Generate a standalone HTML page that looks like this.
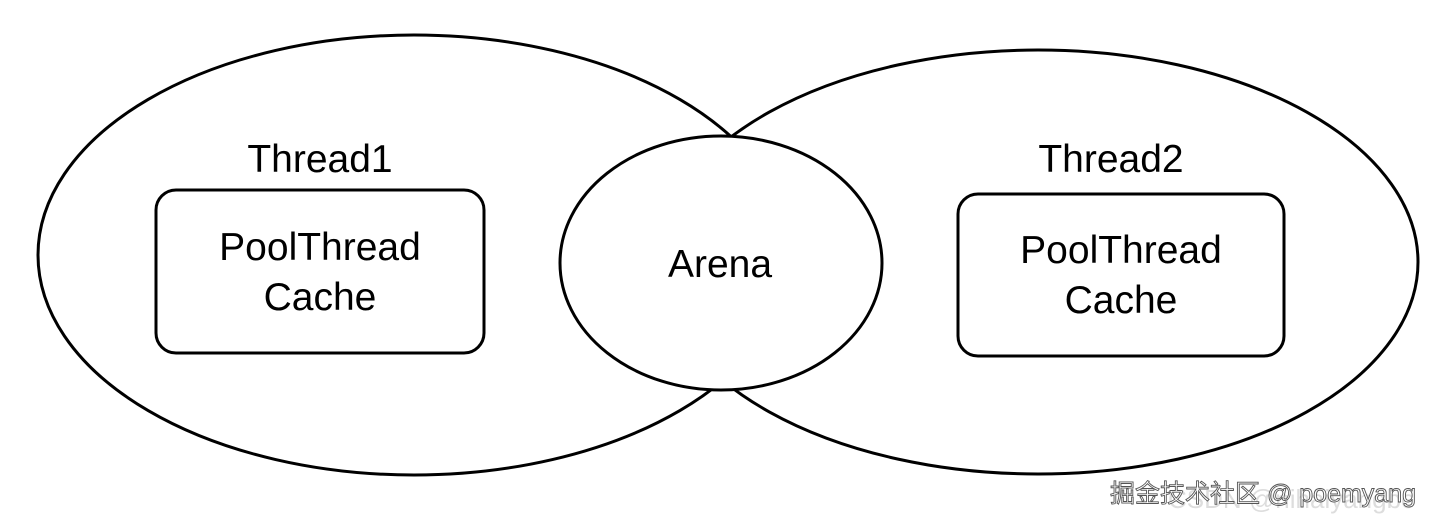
<!DOCTYPE html>
<html><head><style>body{margin:0;background:#fff}svg{display:block}</style></head><body>
<svg width="1440" height="527" xmlns="http://www.w3.org/2000/svg" font-family="Liberation Sans, Noto Sans CJK SC, sans-serif">
<rect width="1440" height="527" fill="#fff"/>
<ellipse cx="414" cy="255" rx="376" ry="220" fill="none" stroke="#000" stroke-width="3"/>
<ellipse cx="1038" cy="262" rx="380" ry="212" fill="none" stroke="#000" stroke-width="3"/>
<ellipse cx="721" cy="263" rx="161" ry="127" fill="#fff" stroke="#000" stroke-width="3"/>
<rect x="156" y="190" width="328" height="163" rx="20" fill="none" stroke="#000" stroke-width="3"/>
<rect x="958" y="194" width="326" height="162" rx="20" fill="none" stroke="#000" stroke-width="3"/>
<g font-size="39" text-anchor="middle" fill="#000">
<text x="320" y="172">Thread1</text>
<text x="320" y="260">PoolThread</text>
<text x="320" y="310">Cache</text>
<text x="720" y="277">Arena</text>
<text x="1111" y="172">Thread2</text>
<text x="1121" y="263">PoolThread</text>
<text x="1121" y="313">Cache</text>
</g>
<text x="1168" y="508" font-size="26" fill="#ddd">CSDN @nihaiyangbo</text>
<text x="1110" y="502" font-size="25" fill="#fff" stroke="#555" stroke-width="0.9">掘金技术社区 @ poemyang</text>
</svg>
</body></html>
